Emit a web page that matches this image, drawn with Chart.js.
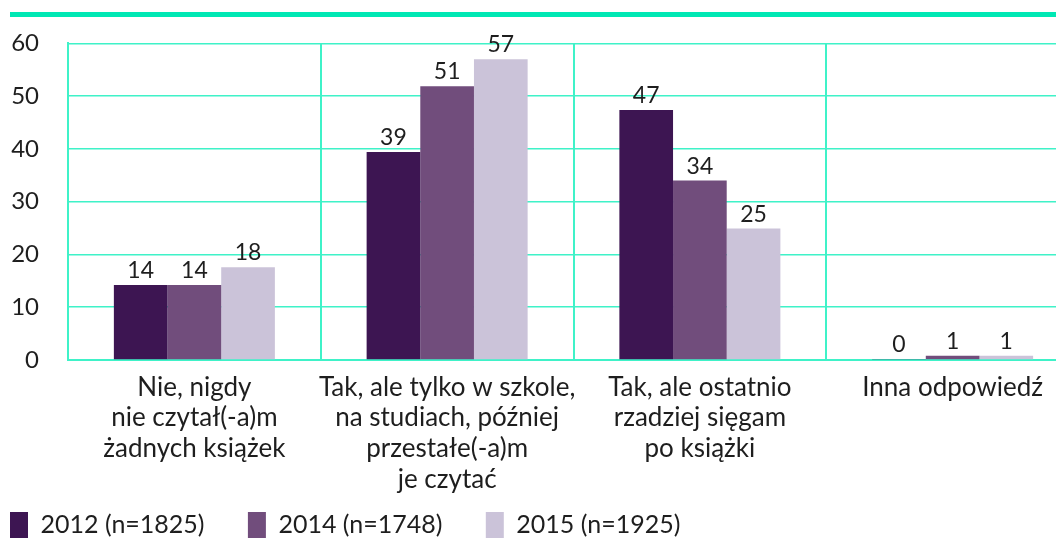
<!DOCTYPE html>
<html>
<head>
<meta charset="utf-8">
<script src="https://cdn.jsdelivr.net/npm/chart.js@4.4.0/dist/chart.umd.min.js"></script>
<style>
  html, body { margin: 0; padding: 0; background: #fff; overflow: hidden; }
  #strona { position: relative; width: 1056px; height: 541px; overflow: hidden; }
  #topline { position: absolute; left: 10px; top: 12px; width: 1046px; height: 5px; background: #00e8b4; }
  /* wykres jest trochę szerszy niż okno, ostatnia kolumna wychodzi za prawą krawędź */
  #wrap { position: absolute; left: -2px; top: 0; width: 1081px; height: 548px; }
</style>
</head>
<body>
<div id="strona">
  <div id="topline"></div>
  <div id="wrap"><canvas id="wykres"></canvas></div>
</div>
<script>
// dane
const kategorie = [
  ["Nie, nigdy", "nie czytał(-a)m", "żadnych książek"],
  ["Tak, ale tylko w szkole,", "na studiach, później", "przestałe(-a)m", "je czytać"],
  ["Tak, ale ostatnio", "rzadziej sięgam", "po książki"],
  "Inna odpowiedź"
];
const serie = ["2012 (n=1825)", "2014 (n=1748)", "2015 (n=1925)"];
const wartosci2012 = [14.2, 39.4, 47.4, 0.2];
const wartosci2014 = [14.2, 51.9, 34.0, 0.8];
const wartosci2015 = [17.6, 57.0, 24.9, 0.8];
const etykiety2012 = ["14", "39", "47", "0"];
const etykiety2014 = ["14", "51", "34", "1"];
const etykiety2015 = ["18", "57", "25", "1"];
const osY = [0, 10, 20, 30, 40, 50, 60];
const kolory = ["#3d1552", "#714d7c", "#cbc3d9"];
const zielony = "#3ff2c8";

Chart.defaults.font.family = "Lato";
Chart.defaults.color = "#1e1e1e";

// liczby nad słupkami
const etykietyPlugin = {
  id: "etykiety",
  afterDatasetsDraw(chart) {
    const ctx = chart.ctx;
    ctx.save();
    ctx.font = "23px Lato";
    ctx.fillStyle = "#1e1e1e";
    ctx.textAlign = "center";
    ctx.textBaseline = "alphabetic";
    chart.data.datasets.forEach((ds, i) => {
      chart.getDatasetMeta(i).data.forEach((bar, j) => {
        ctx.fillText(ds.etykiety[j], bar.x, bar.y - 7);
      });
    });
    ctx.restore();
  }
};

const ctx = document.getElementById("wykres").getContext("2d");
const myChart = new Chart(ctx, {
  type: "bar",
  data: {
    labels: kategorie,
    datasets: [
      { label: serie[0], data: wartosci2012, etykiety: etykiety2012, backgroundColor: kolory[0] },
      { label: serie[1], data: wartosci2014, etykiety: etykiety2014, backgroundColor: kolory[1] },
      { label: serie[2], data: wartosci2015, etykiety: etykiety2015, backgroundColor: kolory[2] },
    ],
  },
  options: {
    animation: false,
    responsive: true,
    maintainAspectRatio: false,
    datasets: { bar: { categoryPercentage: 0.637, barPercentage: 1 } },
    layout: { padding: { top: 41, left: 0, right: 0, bottom: 0 } },
    plugins: {
      tooltip: { enabled: false },
      legend: {
        position: "bottom",
        align: "start",
        labels: {
          boxWidth: 18,
          boxHeight: 26,
          padding: 12,
          font: { size: 25 },
          color: "#1e1e1e",
          // dodatkowy odstęp między pozycjami legendy
          generateLabels: (chart) =>
            Chart.defaults.plugins.legend.labels.generateLabels(chart).map((l) => {
              l.text = l.text + "\u2002\u2002 ";
              return l;
            }),
        },
      },
    },
    scales: {
      x: {
        grid: { color: zielony, lineWidth: 2, drawTicks: false },
        border: { color: zielony, width: 2 },
        ticks: { font: { size: 26, lineHeight: 1.18 }, padding: 12, maxRotation: 0, autoSkip: false },
        afterFit: (s) => { s.height = 140; },
      },
      y: {
        min: 0,
        max: 60,
        grid: { color: zielony, lineWidth: 1.5, drawTicks: false },
        border: { color: zielony, width: 2 },
        ticks: { font: { size: 24 }, padding: 29 },
        afterBuildTicks: (s) => { s.ticks = osY.map((v) => ({ value: v })); },
        afterFit: (s) => { s.width = 70; },
      },
    },
  },
  plugins: [etykietyPlugin],
});
</script>
</body>
</html>
